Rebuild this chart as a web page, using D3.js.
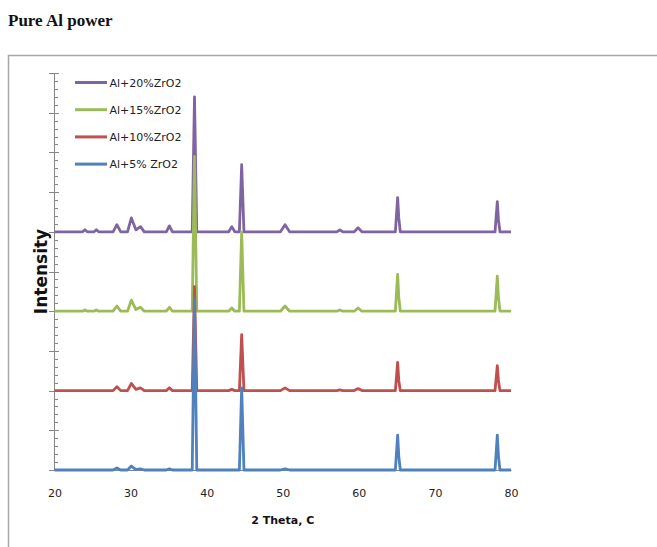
<!DOCTYPE html>
<html>
<head>
<meta charset="utf-8">
<script src="https://cdn.jsdelivr.net/npm/d3@7/dist/d3.min.js"></script>
<style>
  html, body { margin: 0; padding: 0; background: #ffffff; }
  svg { display: block; }
</style>
</head>
<body>
<svg id="chart" width="657" height="547"></svg>
<script>
// ---------------- DATA ----------------
const seriesNames = ["Al+20%ZrO2", "Al+15%ZrO2", "Al+10%ZrO2", "Al+5% ZrO2"];
const seriesColors = ["#8064A2", "#9BBB59", "#C0504D", "#4F81BD"];
const seriesOffsets = [60, 40, 20, 0];

const twoTheta = [20, 23.7, 24.0, 24.3, 25.2, 25.5, 25.8, 27.7, 28.2, 28.7, 29.6, 30.1, 30.7, 31.3, 31.8,
  34.7, 35.1, 35.5, 38.1, 38.4, 38.7, 42.9, 43.3, 43.7, 44.3, 44.6, 44.9, 49.7, 50.3, 50.9,
  57.1, 57.5, 57.9, 59.4, 59.9, 60.4, 64.8, 65.1, 65.25, 65.45, 77.9, 78.2, 78.35, 78.55, 80];

const al20 = [0, 0, 0.5, 0, 0, 0.5, 0, 0, 1.8, 0, 0, 3.5, 0.5, 1.3, 0,
  0, 1.5, 0, 0, 34.0, 0, 0, 1.3, 0, 0, 16.9, 0, 0, 1.8, 0,
  0, 0.5, 0, 0, 1.0, 0, 0, 8.6, 3.5, 0, 0, 7.6, 3.0, 0, 0];
const al15 = [0, 0, 0.3, 0, 0, 0.3, 0, 0, 1.3, 0, 0, 2.8, 0.4, 1.0, 0,
  0, 1.0, 0, 0, 39.0, 0, 0, 0.8, 0, 0, 19.9, 0, 0, 1.3, 0,
  0, 0.3, 0, 0, 0.8, 0, 0, 9.3, 3.5, 0, 0, 8.8, 3.5, 0, 0];
const al10 = [0, 0, 0, 0, 0, 0, 0, 0, 1.0, 0, 0, 1.8, 0.3, 0.7, 0,
  0, 0.7, 0, 0, 26.2, 0, 0, 0.3, 0, 0, 14.1, 0, 0, 0.7, 0,
  0, 0.2, 0, 0, 0.5, 0, 0, 7.1, 2.5, 0, 0, 6.3, 2.5, 0, 0];
const al5 = [0, 0, 0, 0, 0, 0, 0, 0, 0.5, 0, 0, 1.0, 0.1, 0.3, 0,
  0, 0.3, 0, 0, 43.3, 0, 0, 0, 0, 0, 20.7, 0, 0, 0.3, 0,
  0, 0, 0, 0, 0, 0, 0, 8.8, 3.5, 0, 0, 8.8, 3.5, 0, 0];

const seriesValues = [al20, al15, al10, al5];
const xTicks = [20, 30, 40, 50, 60, 70, 80];
const yMajorTicks = [0, 10, 20, 30, 40, 50, 60, 70, 80, 90, 100];
const yMinorTicks = d3.range(0, 100, 2).filter(v => v % 10 !== 0);

// ---------------- CHART ----------------
const svg = d3.select("#chart");

// outer frame
svg.append("rect")
  .attr("x", 8.5).attr("y", 55.5)
  .attr("width", 700).attr("height", 600)
  .attr("fill", "none").attr("stroke", "#a6a6a6").attr("stroke-width", 1.5);

// title
svg.append("text")
  .attr("x", 8).attr("y", 26)
  .attr("font-family", "Liberation Serif, Times New Roman, serif")
  .attr("font-weight", "bold").attr("font-size", 17)
  .attr("fill", "#111").text("Pure Al power");

const x = d3.scaleLinear().domain([20, 80]).range([54.5, 511]);
const y = d3.scaleLinear().domain([0, 100]).range([470, 73]);

// Y axis
const yAxis = svg.append("g");
yAxis.append("line")
  .attr("x1", 54.5).attr("x2", 54.5).attr("y1", y(100)).attr("y2", y(0))
  .attr("stroke", "#868686").attr("stroke-width", 1);
yAxis.selectAll("line.major").data(yMajorTicks).enter().append("line")
  .attr("class", "major")
  .attr("x1", 49).attr("x2", 59)
  .attr("y1", d => Math.round(y(d)) + 0.5).attr("y2", d => Math.round(y(d)) + 0.5)
  .attr("stroke", "#868686").attr("stroke-width", 1);
yAxis.selectAll("line.minor").data(yMinorTicks).enter().append("line")
  .attr("class", "minor")
  .attr("x1", 54.5).attr("x2", 58)
  .attr("y1", d => Math.round(y(d)) + 0.5).attr("y2", d => Math.round(y(d)) + 0.5)
  .attr("stroke", "#868686").attr("stroke-width", 1);

// X axis
const xAxisG = svg.append("g").attr("transform", `translate(0,${y(0)})`)
  .call(d3.axisBottom(x).tickValues(xTicks).tickSize(0).tickPadding(19).tickFormat(d3.format("d")));
xAxisG.select(".domain").attr("stroke", "#868686");
xAxisG.selectAll("text")
  .attr("font-family", "DejaVu Sans, sans-serif").attr("font-size", 11).attr("fill", "#222");

// axis titles
svg.append("text")
  .attr("x", x(50)).attr("y", 524).attr("text-anchor", "middle")
  .attr("font-family", "DejaVu Sans, sans-serif").attr("font-weight", "bold")
  .attr("font-size", 11).attr("fill", "#111").text("2 Theta, C");
svg.append("text")
  .attr("transform", `translate(47,${y(50)}) rotate(-90)`)
  .attr("text-anchor", "middle")
  .attr("font-family", "DejaVu Sans, sans-serif").attr("font-weight", "bold")
  .attr("font-size", 17).attr("fill", "#111").text("Intensity");

// series lines
const line = d3.line().x(d => x(d[0])).y(d => y(d[1]));
seriesValues.forEach((vals, i) => {
  const pts = twoTheta.map((t, k) => [t, vals[k] + seriesOffsets[i]]);
  svg.append("path")
    .datum(pts)
    .attr("d", line)
    .attr("fill", "none")
    .attr("stroke", seriesColors[i])
    .attr("stroke-width", 2.8)
    .attr("stroke-linejoin", "round")
    .attr("stroke-linecap", "butt");
});

// legend
const legend = svg.append("g");
seriesNames.forEach((name, i) => {
  const ly = 82.5 + i * 27.2;
  legend.append("line")
    .attr("x1", 75).attr("x2", 107).attr("y1", ly).attr("y2", ly)
    .attr("stroke", seriesColors[i]).attr("stroke-width", 3);
  legend.append("text")
    .attr("x", 109.5).attr("y", ly + 4)
    .attr("font-family", "DejaVu Sans, sans-serif").attr("font-size", 11)
    .attr("fill", "#222").text(name);
});
</script>
</body>
</html>
